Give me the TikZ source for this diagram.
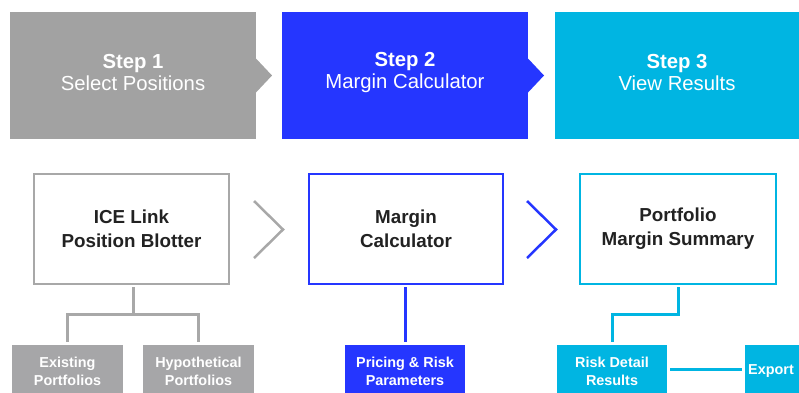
\documentclass[tikz,border=0pt]{standalone}
\usepackage{fontspec}
\setmainfont{Liberation Sans}
\usetikzlibrary{calc}
\definecolor{stepgray}{HTML}{A2A2A2}
\definecolor{stepblue}{HTML}{2536FF}
\definecolor{stepcyan}{HTML}{00B5E2}
\definecolor{boxgray}{HTML}{A8A8A8}
\definecolor{subgray}{HTML}{A6A6A8}
\definecolor{darktext}{HTML}{222222}
\begin{document}
\begin{tikzpicture}[x=1pt,y=-1pt,
  stepbox/.style={rectangle,inner sep=0pt,outer sep=0pt,minimum height=127pt},
  steptext/.style={inner sep=0pt,text=white,align=center,font=\fontsize{20.3}{22.5}\selectfont},
  mainbox/.style={rectangle,draw,line width=2.8pt,fill=white,inner sep=0pt,outer sep=0pt,minimum height=110pt,text=darktext,align=center,font=\bfseries\fontsize{18.8}{24}\selectfont},
  subbox/.style={rectangle,inner sep=0pt,outer sep=0pt,text=white,align=center,font=\bfseries\fontsize{14.4}{18}\selectfont},
  link/.style={line width=3pt},
  chev/.style={line width=2.5pt}]
\useasboundingbox (0,0) rectangle (799,392);
% top steps
\node[stepbox,fill=stepgray,minimum width=246pt] (s1) at (133,75.5) {};
\node[stepbox,fill=stepblue,minimum width=246pt] (s2) at (405,75.5) {};
\node[stepbox,fill=stepcyan,minimum width=244pt] (s3) at (677,75.5) {};
\fill[stepgray] ($(s1.east)+(0pt,17pt)$) -- ($(s1.east)+(16pt,0pt)$) -- ($(s1.east)+(0pt,-17pt)$) -- cycle;
\fill[stepblue] ($(s2.east)+(0pt,17pt)$) -- ($(s2.east)+(16pt,0pt)$) -- ($(s2.east)+(0pt,-17pt)$) -- cycle;
\node[steptext] (t1) at (133,72.5) {\textbf{Step 1}\\Select Positions};
\node[steptext] (t2) at (405,72.5) {\textbf{Step 2}\\Margin Calculator};
\node[steptext] (t3) at (677,72.5) {\textbf{Step 3}\\View Results};
% main boxes
\node[mainbox,draw=boxgray,minimum width=195pt] (b1) at (131.5,229) {ICE Link\\Position Blotter};
\node[mainbox,draw=stepblue,minimum width=194pt] (b2) at (406,229) {Margin\\Calculator};
\node[mainbox,draw=stepcyan,minimum width=196pt] (b3) at (678,229) {Portfolio\\Margin Summary};
% chevrons
\coordinate (c1a) at (254,201); \coordinate (c1b) at (283,229.5); \coordinate (c1c) at (254,258);
\coordinate (c2a) at (527,201); \coordinate (c2b) at (556,229.5); \coordinate (c2c) at (527,258);
\draw[chev,boxgray] (c1a) -- (c1b) -- (c1c);
\draw[chev,stepblue] (c2a) -- (c2b) -- (c2c);
% sub boxes (run past the lower edge of the picture)
\node[subbox,fill=subgray,minimum width=111pt,minimum height=52pt] (e1) at (67.5,371) {Existing\\Portfolios};
\node[subbox,fill=subgray,minimum width=111pt,minimum height=52pt] (h1) at (198.5,371) {Hypothetical\\Portfolios};
\node[subbox,fill=stepblue,minimum width=120pt,minimum height=52pt] (p1) at (405,371) {Pricing \& Risk\\Parameters};
\node[subbox,fill=stepcyan,minimum width=110pt,minimum height=52pt] (r1) at (612,371) {Risk Detail\\Results};
\node[subbox,fill=stepcyan,minimum width=54pt,minimum height=52pt] (x1) at (772,371) {\hspace*{-2pt}Export};
% connectors
\coordinate (j1) at (133,314);
\draw[link,boxgray] ([yshift=-3pt]b1.south -| j1) -- (j1);
\draw[link,boxgray] ([yshift=3pt]e1.north) |- (j1) -| ([yshift=3pt]h1.north);
\draw[link,stepblue] ([yshift=-3pt]b2.south -| p1.north) -- ([yshift=3pt]p1.north);
\coordinate (j3) at (678,314);
\draw[link,stepcyan] ([yshift=-3pt]b3.south) -- (j3) -| ([yshift=3pt]r1.north);
\draw[link,stepcyan] ([xshift=3pt]r1.east |- 0,369) -- ([xshift=-3pt]x1.west |- 0,369);
\end{tikzpicture}
\end{document}
